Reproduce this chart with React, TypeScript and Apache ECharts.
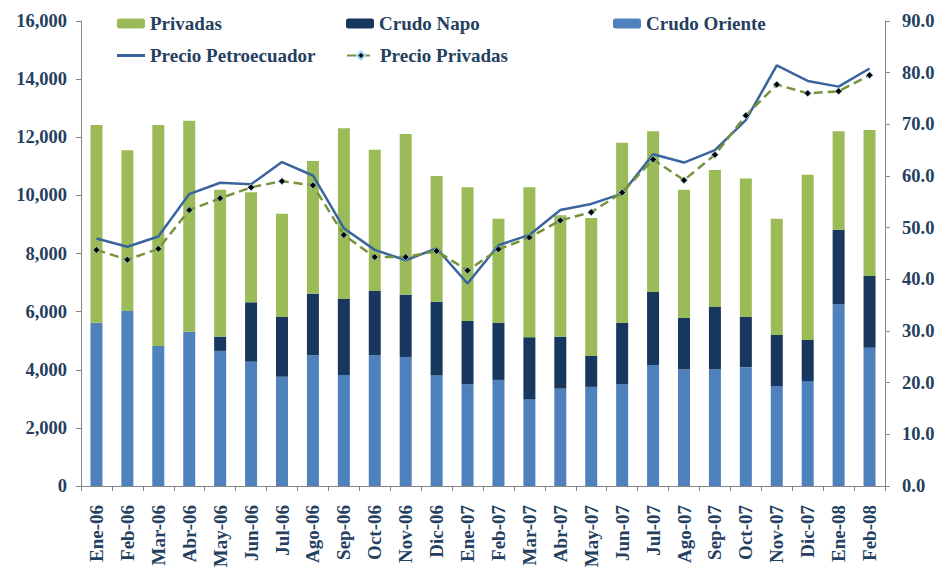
import React, { useEffect, useRef } from "react";
import * as echarts from "echarts";

const categories = ["Ene-06","Feb-06","Mar-06","Abr-06","May-06","Jun-06","Jul-06","Ago-06","Sep-06","Oct-06","Nov-06","Dic-06","Ene-07","Feb-07","Mar-07","Abr-07","May-07","Jun-07","Jul-07","Ago-07","Sep-07","Oct-07","Nov-07","Dic-07","Ene-08","Feb-08"];
const crudoOriente = [5620,6020,4820,5310,4650,4280,3760,4500,3820,4500,4440,3800,3500,3650,2990,3350,3410,3500,4160,4010,4010,4090,3430,3610,6250,4760];
const crudoNapo = [0,0,0,0,490,2040,2055,2120,2615,2210,2145,2540,2180,1970,2130,1790,1065,2120,2515,1770,2150,1725,1765,1415,2570,2465];
const privadas = [6800,5530,7600,7260,5050,3790,3555,4560,5875,4860,5525,4330,4600,3580,5160,4180,4745,6190,5535,4410,4710,4765,4005,5685,3390,5025];
const precioPetroecuador = [47.9,46.3,48.3,56.5,58.7,58.4,62.7,60.1,49.9,45.7,43.7,46.0,39.2,46.6,48.6,53.4,54.6,56.6,64.2,62.6,65.0,70.8,81.4,78.4,77.3,80.8];
const precioPrivadas = [45.7,43.8,45.9,53.4,55.7,57.8,59.0,58.2,48.6,44.3,44.3,45.5,41.7,45.8,48.1,51.4,53.0,56.8,63.2,59.2,64.1,71.7,77.7,76.0,76.4,79.5];

const FONT = "Liberation Serif";
const TXT = "#243F60";
const AX = "#868686";

export default function App() {
  const ref = useRef<HTMLDivElement>(null);
  useEffect(() => {
    document.body.style.margin = "0";
    const chart = echarts.init(ref.current!, null, { renderer: "svg" });
    const legendText = { color: TXT, fontFamily: FONT, fontWeight: "bold", fontSize: 19 };
    const mkLegend = (item: any, left: number, top: number, h = 10) => ({
      data: [item], left, top, itemWidth: 28, itemHeight: h, itemGap: 3,
      textStyle: legendText, padding: 0,
    });
    chart.setOption({
      animation: false,
      backgroundColor: "#ffffff",
      legend: [
        mkLegend("Privadas", 117, 14),
        mkLegend("Crudo Napo", 346, 14),
        mkLegend("Crudo Oriente", 613, 14),
        mkLegend({ name: "Precio Petroecuador", icon: "rect" }, 117, 46, 3),
        mkLegend("Precio Privadas", 346, 46),
      ],
      grid: { left: 81, right: 53, top: 21, bottom: 81, containLabel: false, outerBoundsMode: "none" },
      xAxis: {
        type: "category",
        data: categories,
        axisLine: { lineStyle: { color: AX, width: 1 } },
        axisTick: { show: true, alignWithLabel: false, length: 5, lineStyle: { color: AX } },
        axisLabel: { rotate: 90, color: TXT, fontFamily: FONT, fontWeight: "bold", fontSize: 19, margin: 19, interval: 0 },
      },
      yAxis: [
        {
          type: "value", min: 0, max: 16000, interval: 2000,
          axisLine: { show: true, lineStyle: { color: AX } },
          axisTick: { show: true, length: 5, lineStyle: { color: AX } },
          splitLine: { show: false },
          axisLabel: {
            color: TXT, fontFamily: FONT, fontWeight: "bold", fontSize: 18.5, margin: 14,
            formatter: (v: number) => v.toLocaleString("en-US"),
          },
        },
        {
          type: "value", min: 0, max: 90, interval: 10, position: "right",
          axisLine: { show: true, lineStyle: { color: AX } },
          axisTick: { show: true, length: 5, lineStyle: { color: AX } },
          splitLine: { show: false },
          axisLabel: {
            color: TXT, fontFamily: FONT, fontWeight: "bold", fontSize: 18.5, margin: 17,
            formatter: (v: number) => v.toFixed(1),
          },
        },
      ],
      series: [
        { name: "Crudo Oriente", type: "bar", stack: "t", data: crudoOriente, barWidth: 12, itemStyle: { color: "#4F81BD" } },
        { name: "Crudo Napo", type: "bar", stack: "t", data: crudoNapo, barWidth: 12, itemStyle: { color: "#17375E" } },
        { name: "Privadas", type: "bar", stack: "t", data: privadas, barWidth: 12, itemStyle: { color: "#9BBB59" } },
        {
          name: "Precio Petroecuador", type: "line", yAxisIndex: 1, data: precioPetroecuador,
          symbol: "none", lineStyle: { color: "#3A649E", width: 2.5 }, itemStyle: { color: "#3A649E" },
        },
        {
          name: "Precio Privadas", type: "line", yAxisIndex: 1, data: precioPrivadas,
          symbol: "diamond", symbolSize: 7,
          lineStyle: { color: "#77933C", width: 2.5, type: [9, 5] },
          itemStyle: { color: "#000000", borderColor: "#9FD8EE", borderWidth: 0.8 },
        },
      ],
    });
    return () => chart.dispose();
  }, []);
  return <div ref={ref} style={{ width: 938, height: 567 }} />;
}
